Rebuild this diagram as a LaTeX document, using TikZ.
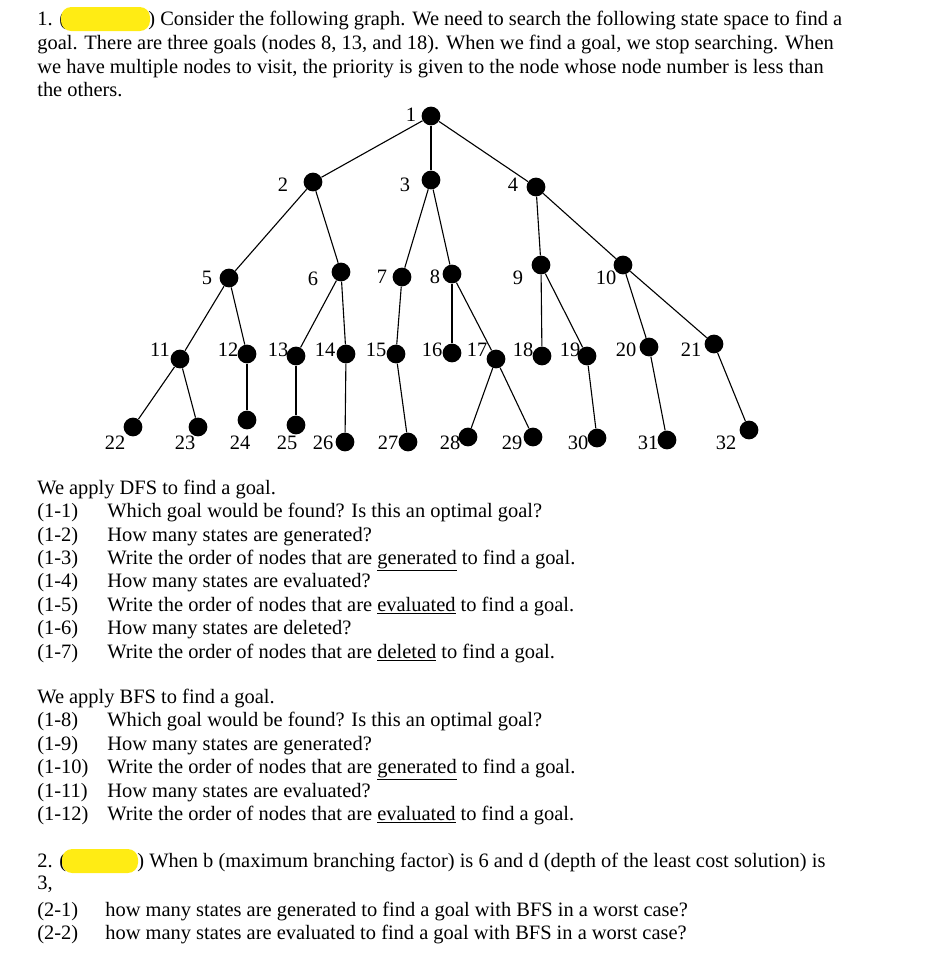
\documentclass[tikz,border=0pt]{standalone}
\usepackage{fontspec}
\setmainfont{Liberation Serif}
\definecolor{marker}{RGB}{255,236,20}
\begin{document}
\begin{tikzpicture}[x=0.587pt, y=-0.587pt, dot_style/.style={circle,fill=black,inner sep=0pt,minimum size=11pt},edge_style/.style={draw=black, line width=0.65pt},num_style/.style={inner sep=0pt,font=\fontsize{12}{14}\selectfont},text_style/.style={anchor=base west,inner sep=0pt,font=\fontsize{12}{14}\selectfont},blob_style/.style={fill=marker,rounded corners=6pt}]
      \useasboundingbox (0,0) rectangle (925,953);
      % question 1
      \node[text_style] (q1a) at (37,25) {1. (};
      \fill[blob_style] (61,7) rectangle (150,31);
      \node[text_style] (q1b) at (148,25) {) Consider the following graph. We need to search the following state space to find a};
      \node[text_style] (q1c) at (37,49) {goal. There are three goals (nodes 8, 13, and 18). When we find a goal, we stop searching. When};
      \node[text_style] (q1d) at (37,73) {we have multiple nodes to visit, the priority is given to the node whose node number is less than};
      \node[text_style] (q1e) at (37,96) {the others.};
      % the tree
      \draw
        (431,116) node[dot_style] (1){}
        (313,182) node[dot_style] (2){}
        (431,180) node[dot_style] (3){}
        (536,187) node[dot_style] (4){}
        (229,278) node[dot_style] (5){}
        (341,272) node[dot_style] (6){}
        (402,277) node[dot_style] (7){}
        (452,274) node[dot_style] (8){}
        (541,265) node[dot_style] (9){}
        (623,265) node[dot_style] (10){}
        (180,359) node[dot_style] (11){}
        (247,354) node[dot_style] (12){}
        (296,356) node[dot_style] (13){}
        (346,354) node[dot_style] (14){}
        (396,354) node[dot_style] (15){}
        (452,353) node[dot_style] (16){}
        (496,359) node[dot_style] (17){}
        (542,356) node[dot_style] (18){}
        (587,356) node[dot_style] (19){}
        (649,347) node[dot_style] (20){}
        (714,344) node[dot_style] (21){}
        (133,427) node[dot_style] (22){}
        (198,427) node[dot_style] (23){}
        (247,420) node[dot_style] (24){}
        (296,425) node[dot_style] (25){}
        (345,442) node[dot_style] (26){}
        (408,442) node[dot_style] (27){}
        (468,437) node[dot_style] (28){}
        (533,437) node[dot_style] (29){}
        (597,438) node[dot_style] (30){}
        (667,440) node[dot_style] (31){}
        (749,430) node[dot_style] (32){};
      \draw
        (411,115) node[num_style] (l1){1}
        (283,185) node[num_style] (l2){2}
        (405,185) node[num_style] (l3){3}
        (513,185) node[num_style] (l4){4}
        (207,278) node[num_style] (l5){5}
        (313,279) node[num_style] (l6){6}
        (382,277) node[num_style] (l7){7}
        (435,277) node[num_style] (l8){8}
        (518,278) node[num_style] (l9){9}
        (606,278) node[num_style] (l10){10}
        (160,350) node[num_style] (l11){11}
        (228,350) node[num_style] (l12){12}
        (278,350) node[num_style] (l13){13}
        (325,350) node[num_style] (l14){14}
        (376,350) node[num_style] (l15){15}
        (432,350) node[num_style] (l16){16}
        (477,350) node[num_style] (l17){17}
        (523,350) node[num_style] (l18){18}
        (570,350) node[num_style] (l19){19}
        (626,350) node[num_style] (l20){20}
        (691,350) node[num_style] (l21){21}
        (115,443) node[num_style] (l22){22}
        (185,443) node[num_style] (l23){23}
        (240,443) node[num_style] (l24){24}
        (287,443) node[num_style] (l25){25}
        (323,443) node[num_style] (l26){26}
        (388,443) node[num_style] (l27){27}
        (450,443) node[num_style] (l28){28}
        (512,443) node[num_style] (l29){29}
        (578,443) node[num_style] (l30){30}
        (648,443) node[num_style] (l31){31}
        (726,443) node[num_style] (l32){32};
      \begin{scope}
        \draw[edge_style] (1) to (2);
        \draw[edge_style] (1) to (3);
        \draw[edge_style] (1) to (4);
        \draw[edge_style] (2) to (5);
        \draw[edge_style] (2) to (6);
        \draw[edge_style] (3) to (7);
        \draw[edge_style] (3) to (8);
        \draw[edge_style] (4) to (9);
        \draw[edge_style] (4) to (10);
        \draw[edge_style] (5) to (11);
        \draw[edge_style] (5) to (12);
        \draw[edge_style] (6) to (13);
        \draw[edge_style] (6) to (14);
        \draw[edge_style] (7) to (15);
        \draw[edge_style] (8) to (16);
        \draw[edge_style] (8) to (17);
        \draw[edge_style] (9) to (18);
        \draw[edge_style] (9) to (19);
        \draw[edge_style] (10) to (20);
        \draw[edge_style] (10) to (21);
        \draw[edge_style] (11) to (22);
        \draw[edge_style] (11) to (23);
        \draw[edge_style] (12) to (24);
        \draw[edge_style] (13) to (25);
        \draw[edge_style] (14) to (26);
        \draw[edge_style] (15) to (27);
        \draw[edge_style] (17) to (28);
        \draw[edge_style] (17) to (29);
        \draw[edge_style] (19) to (30);
        \draw[edge_style] (20) to (31);
        \draw[edge_style] (21) to (32);
      \end{scope}
      % DFS questions
      \node[text_style] (dfs) at (37,494) {We apply DFS to find a goal.};
      \node[text_style] (d1) at (37,517) {(1-1)};
      \node[text_style] (t1) at (107,517) {Which goal would be found? Is this an optimal goal?};
      \node[text_style] (d2) at (37,541) {(1-2)};
      \node[text_style] (t2) at (107,541) {How many states are generated?};
      \node[text_style] (d3) at (37,564) {(1-3)};
      \node[text_style] (t3) at (107,564) {Write the order of nodes that are \underline{generated} to find a goal.};
      \node[text_style] (d4) at (37,587) {(1-4)};
      \node[text_style] (t4) at (107,587) {How many states are evaluated?};
      \node[text_style] (d5) at (37,611) {(1-5)};
      \node[text_style] (t5) at (107,611) {Write the order of nodes that are \underline{evaluated} to find a goal.};
      \node[text_style] (d6) at (37,634) {(1-6)};
      \node[text_style] (t6) at (107,634) {How many states are deleted?};
      \node[text_style] (d7) at (37,658) {(1-7)};
      \node[text_style] (t7) at (107,658) {Write the order of nodes that are \underline{deleted} to find a goal.};
      % BFS questions
      \node[text_style] (bfs) at (37,703) {We apply BFS to find a goal.};
      \node[text_style] (d8) at (37,726) {(1-8)};
      \node[text_style] (t8) at (107,726) {Which goal would be found? Is this an optimal goal?};
      \node[text_style] (d9) at (37,750) {(1-9)};
      \node[text_style] (t9) at (107,750) {How many states are generated?};
      \node[text_style] (d10) at (37,773) {(1-10)};
      \node[text_style] (t10) at (107,773) {Write the order of nodes that are \underline{generated} to find a goal.};
      \node[text_style] (d11) at (37,797) {(1-11)};
      \node[text_style] (t11) at (107,797) {How many states are evaluated?};
      \node[text_style] (d12) at (37,820) {(1-12)};
      \node[text_style] (t12) at (107,820) {Write the order of nodes that are \underline{evaluated} to find a goal.};
      % question 2
      \node[text_style] (q2a) at (37,867) {2. (};
      \fill[blob_style] (62,849) rectangle (138,873);
      \node[text_style] (q2b) at (137,867) {) When b (maximum branching factor) is 6 and d (depth of the least cost solution) is};
      \node[text_style] (q2c) at (37,889) {3,};
      \node[text_style] (e1) at (37,916) {(2-1)};
      \node[text_style] (s1) at (105,916) {how many states are generated to find a goal with BFS in a worst case?};
      \node[text_style] (e2) at (37,939) {(2-2)};
      \node[text_style] (s2) at (105,939) {how many states are evaluated to find a goal with BFS in a worst case?};
    \end{tikzpicture}
\end{document}
